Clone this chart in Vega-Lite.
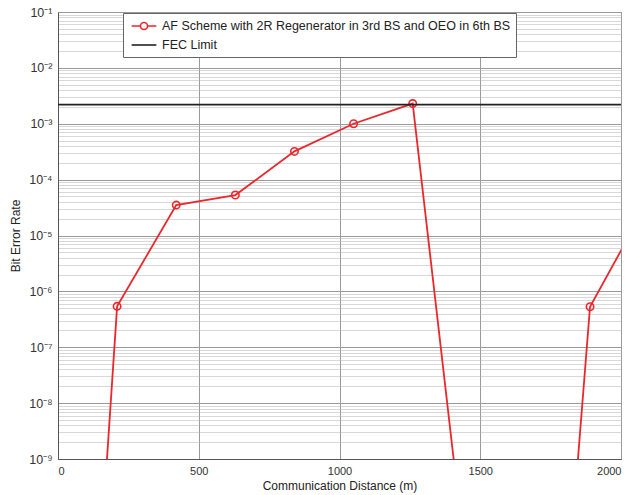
{
  "$schema": "https://vega.github.io/schema/vega-lite/v6.json",
  "width": 563,
  "height": 447,
  "autosize": "none",
  "padding": {"left": 58, "top": 12, "right": 14, "bottom": 36},
  "background": "white",
  "datasets": {
    "ber": [
      {"d": 0, "ber": 6e-23},
      {"d": 210, "ber": 5.4e-7},
      {"d": 420, "ber": 3.5e-5},
      {"d": 630, "ber": 5.3e-5},
      {"d": 840, "ber": 3.2e-4},
      {"d": 1050, "ber": 1.0e-3},
      {"d": 1260, "ber": 2.3e-3},
      {"d": 1470, "ber": 1.5e-12},
      {"d": 1680, "ber": 2.5e-20},
      {"d": 1890, "ber": 5.3e-7},
      {"d": 2100, "ber": 4.4e-5}
    ],
    "fec": [{"fec": 0.0022}]
  },
  "config": {
    "font": "Liberation Sans",
    "view": {"stroke": "#555", "strokeWidth": 1},
    "axis": {
      "labelFont": "Liberation Sans",
      "titleFont": "Liberation Sans",
      "labelFontSize": 11,
      "titleFontSize": 12,
      "titleFontWeight": "normal",
      "labelColor": "#333",
      "titleColor": "#222",
      "domainColor": "#555",
      "tickColor": "#555"
    }
  },
  "layer": [
    {
      "data": {"name": "ber"},
      "mark": {"type": "line", "clip": true, "strokeWidth": 1.8},
      "encoding": {
        "x": {
          "field": "d",
          "type": "quantitative",
          "scale": {"domain": [0, 2000], "nice": false},
          "axis": {
            "title": "Communication Distance (m)",
            "values": [0, 500, 1000, 1500, 2000],
            "format": "d",
            "grid": true,
            "gridColor": "#9a9a9a",
            "gridWidth": 1,
            "ticks": false,
            "labelPadding": 6,
            "titlePadding": 4
          }
        },
        "y": {
          "field": "ber",
          "type": "quantitative",
          "scale": {"type": "log", "domain": [1e-9, 0.1], "nice": false},
          "axis": {
            "title": "Bit Error Rate",
            "titlePadding": 6,
            "labelFontSize": 12.5,
            "values": [1e-9, 2e-9, 3e-9, 4e-9, 5e-9, 6e-9, 7e-9, 8e-9, 9e-9,
                       1e-8, 2e-8, 3e-8, 4e-8, 5e-8, 6e-8, 7e-8, 8e-8, 9e-8,
                       1e-7, 2e-7, 3e-7, 4e-7, 5e-7, 6e-7, 7e-7, 8e-7, 9e-7,
                       1e-6, 2e-6, 3e-6, 4e-6, 5e-6, 6e-6, 7e-6, 8e-6, 9e-6,
                       1e-5, 2e-5, 3e-5, 4e-5, 5e-5, 6e-5, 7e-5, 8e-5, 9e-5,
                       1e-4, 2e-4, 3e-4, 4e-4, 5e-4, 6e-4, 7e-4, 8e-4, 9e-4,
                       0.001, 0.002, 0.003, 0.004, 0.005, 0.006, 0.007, 0.008, 0.009,
                       0.01, 0.02, 0.03, 0.04, 0.05, 0.06, 0.07, 0.08, 0.09, 0.1],
            "labelOverlap": false,
            "labelExpr": "abs(log(datum.value)/LN10 - round(log(datum.value)/LN10)) < 0.001 ? '10⁻' + ['⁰','¹','²','³','⁴','⁵','⁶','⁷','⁸','⁹'][-round(log(datum.value)/LN10)] : ''",
            "ticks": false,
            "labelPadding": 6,
            "grid": true,
            "gridColor": {"condition": {"test": "abs(log(datum.value)/LN10 - round(log(datum.value)/LN10)) < 0.001", "value": "#9a9a9a"}, "value": "#b0b0b0"},
            "gridDash": {"condition": {"test": "abs(log(datum.value)/LN10 - round(log(datum.value)/LN10)) < 0.001", "value": []}, "value": [1, 1]}
          }
        },
        "color": {
          "datum": "AF Scheme with 2R Regenerator in 3rd BS and OEO in 6th BS",
          "type": "nominal",
          "scale": {
            "domain": ["AF Scheme with 2R Regenerator in 3rd BS and OEO in 6th BS", "FEC Limit"],
            "range": ["#e8282d", "#222222"]
          },
          "legend": {
            "title": null,
            "orient": "none",
            "legendX": 65,
            "legendY": 1,
            "fillColor": "white",
            "strokeColor": "#666",
            "padding": 5,
            "rowPadding": 4,
            "labelLimit": 0,
            "labelOffset": 10,
            "symbolOffset": 8,
            "labelFont": "Liberation Sans",
            "labelFontSize": 12.5,
            "labelColor": "#222",
            "symbolSize": 200,
            "symbolStrokeWidth": 1.6,
            "encode": {
              "symbols": {
                "update": {
                  "shape": {"signal": "datum.value === 'FEC Limit' ? 'M-1.75,0L1.75,0' : 'M-1.75,0L-0.5,0M0.5,0L1.75,0M0.5,0A0.5,0.5 0 1 1 -0.5,0A0.5,0.5 0 1 1 0.5,0'"},
                  "fill": {"value": "transparent"}
                }
              }
            }
          }
        }
      }
    },
    {
      "data": {"name": "ber"},
      "mark": {"type": "point", "clip": true, "filled": false, "size": 55, "strokeWidth": 1.6, "opacity": 1},
      "encoding": {
        "x": {"field": "d", "type": "quantitative"},
        "y": {"field": "ber", "type": "quantitative"},
        "color": {"datum": "AF Scheme with 2R Regenerator in 3rd BS and OEO in 6th BS", "type": "nominal"}
      }
    },
    {
      "data": {"name": "fec"},
      "mark": {"type": "rule", "strokeWidth": 1.6},
      "encoding": {
        "y": {"field": "fec", "type": "quantitative"},
        "color": {"datum": "FEC Limit", "type": "nominal"}
      }
    }
  ]
}
